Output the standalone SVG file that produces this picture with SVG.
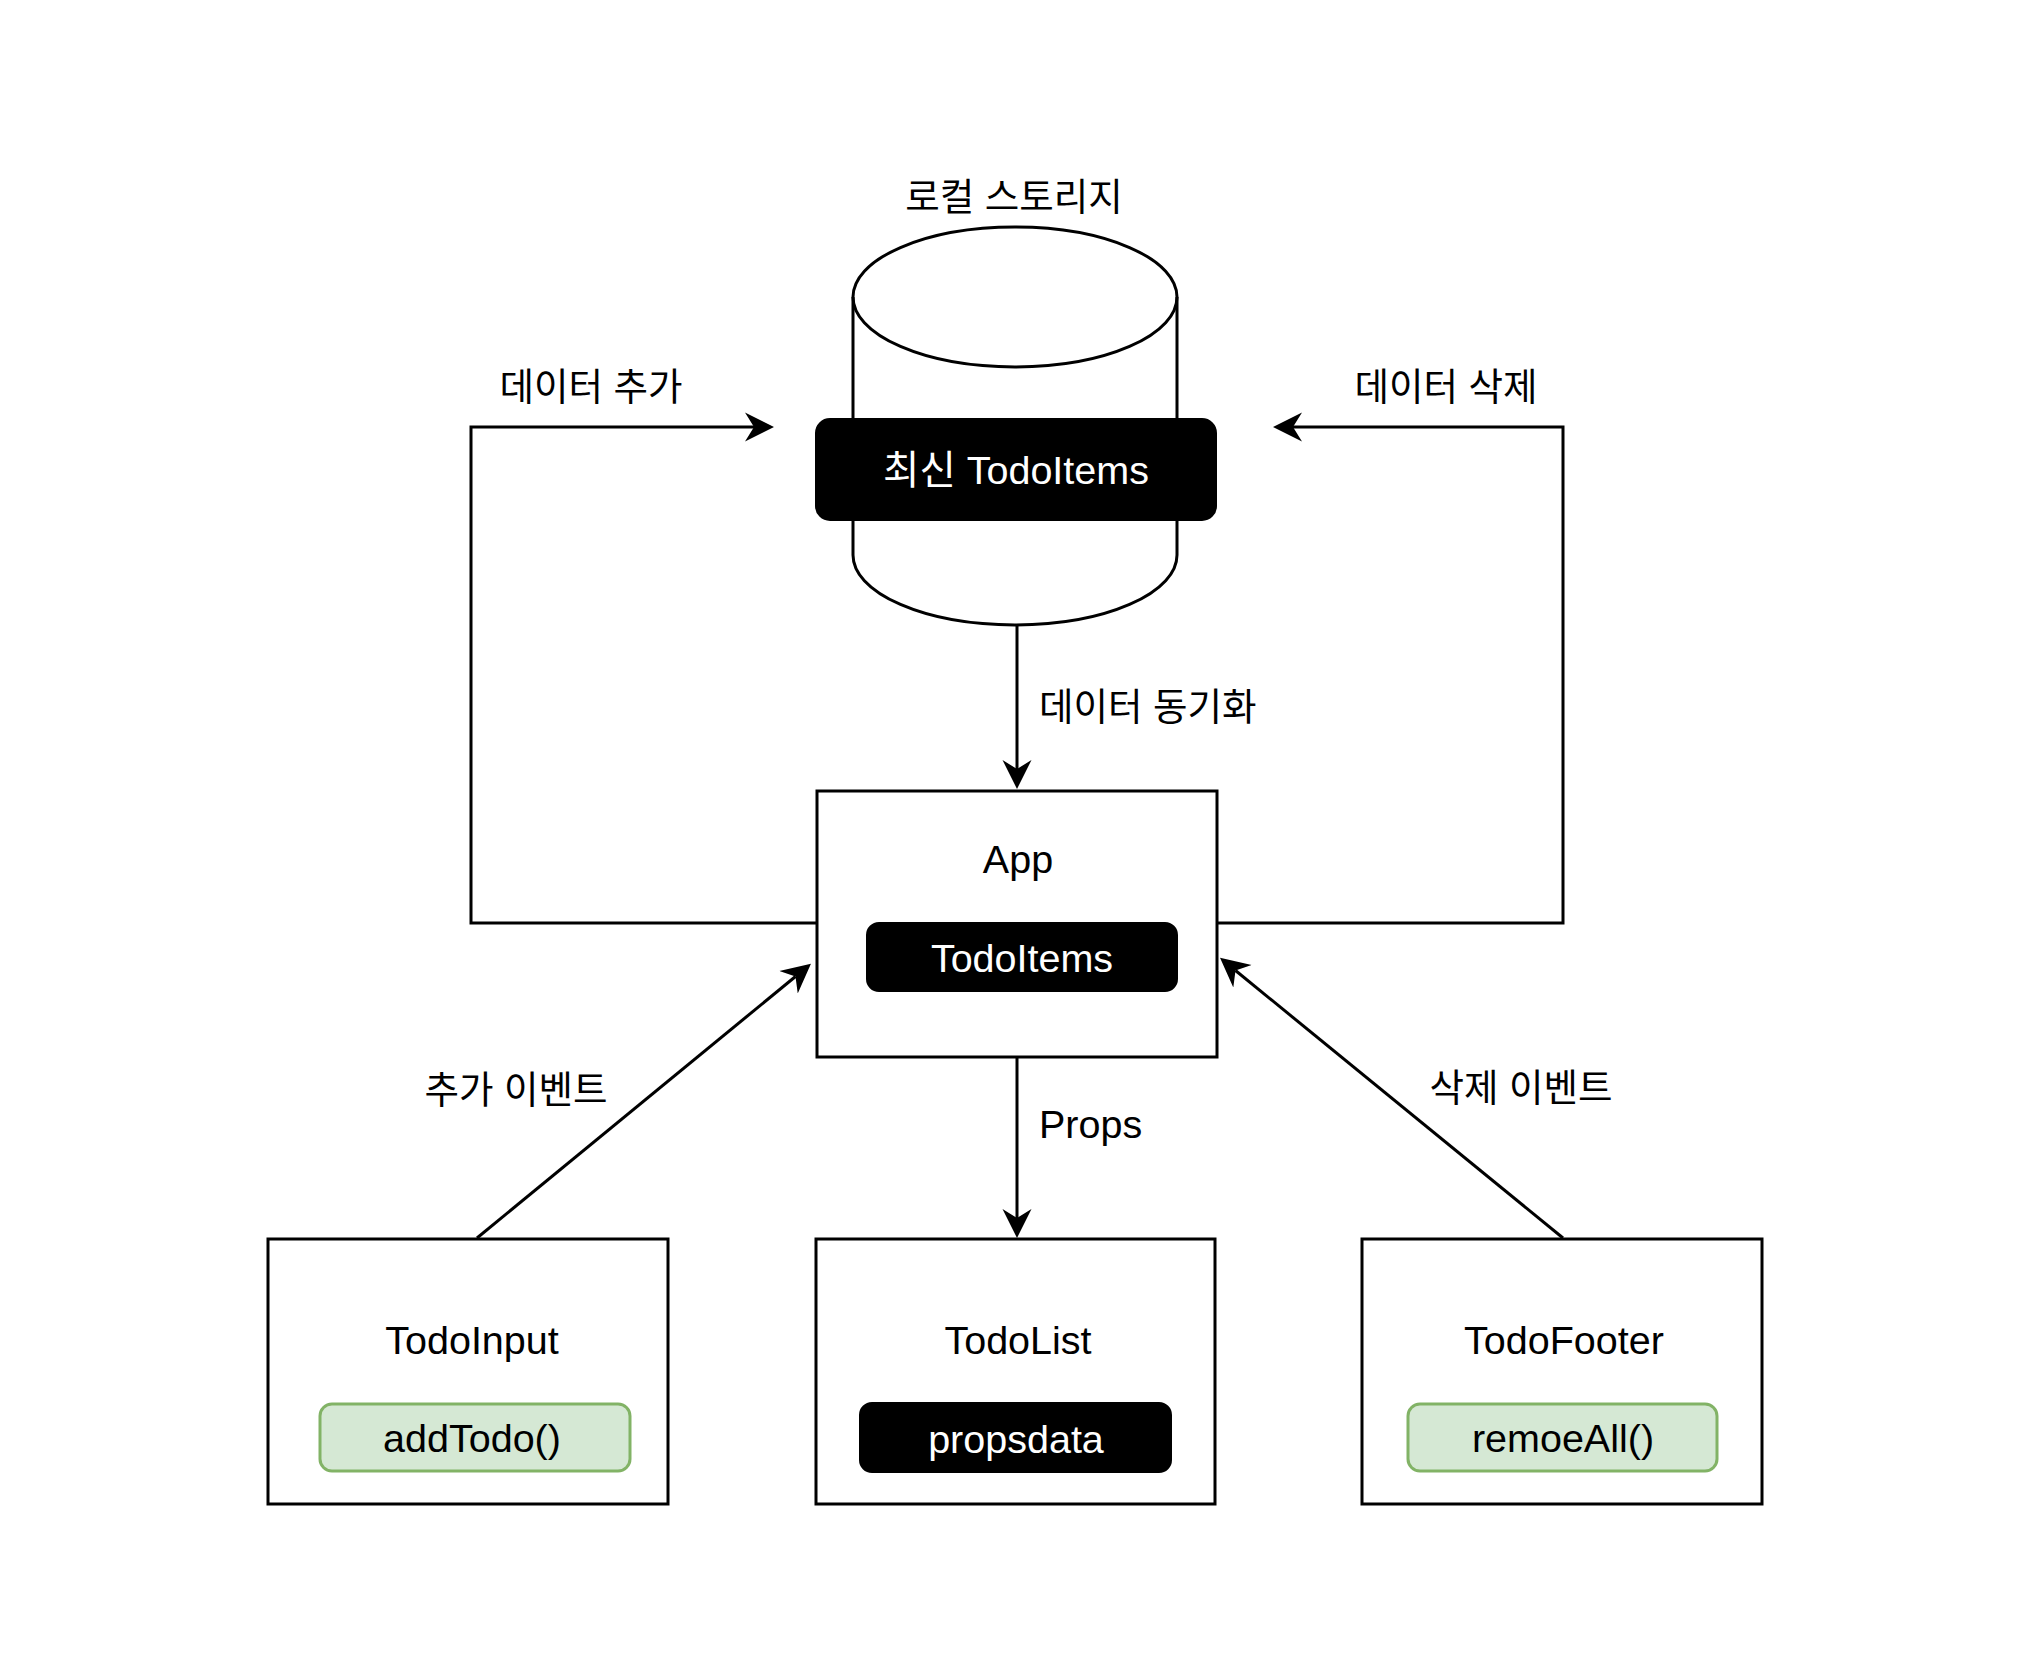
<svg xmlns="http://www.w3.org/2000/svg" width="2040" height="1658" viewBox="0 0 2040 1658">
<style>
  .box { fill: #ffffff; stroke: #000000; stroke-width: 3; }
  .dark { fill: #000000; stroke: #000000; stroke-width: 2; }
  .green { fill: #d5e8d4; stroke: #82b366; stroke-width: 3; }
  .t { font-family: "Liberation Sans", "Noto Sans CJK KR", sans-serif; font-size: 39.5px; fill: #000000; }
  .w { fill: #ffffff; }
  .k { font-family: "Liberation Sans", "Noto Sans CJK KR", sans-serif; font-size: 37.5px; fill: #000000; }
  .c { text-anchor: middle; }
  .edge { fill: none; stroke: #000000; stroke-width: 3; }
</style>
<defs>
  <marker id="arrow" markerUnits="userSpaceOnUse" markerWidth="31" markerHeight="32" viewBox="0 0 31 32" refX="9" refY="16" orient="auto">
    <path d="M0,1.5 L29,16 L0,30.5 L9,16 Z" fill="#000000"/>
  </marker>
</defs>
<rect x="0" y="0" width="2040" height="1658" fill="#ffffff"/>

<g id="connectors">
  <path class="edge" d="M1017,625 V769" marker-end="url(#arrow)"/>
  <path class="edge" d="M1017,1057 V1218" marker-end="url(#arrow)"/>
  <path class="edge" d="M817,923 H471 V427 H754" marker-end="url(#arrow)"/>
  <path class="edge" d="M1217,923 H1563 V427 H1293" marker-end="url(#arrow)"/>
  <path class="edge" d="M477,1238 L795.5,976.5" marker-end="url(#arrow)"/>
  <path class="edge" d="M1563,1238 L1235.5,970.5" marker-end="url(#arrow)"/>
  <text class="k c" x="591" y="400">데이터 추가</text>
  <text class="k c" x="1446" y="400">데이터 삭제</text>
  <text class="k" x="1039" y="720">데이터 동기화</text>
  <text class="k c" x="516" y="1103">추가 이벤트</text>
  <text class="k c" x="1521" y="1101">삭제 이벤트</text>
  <text class="t" x="1039" y="1138">Props</text>
</g>

<g id="storage">
  <path class="box" d="M853,297 A162,70 0 0,1 1177,297 V555 A162,70 0 0,1 853,555 Z"/>
  <path class="edge" d="M853,297 A162,70 0 0,0 1177,297"/>
  <text class="k c" x="1014" y="210">로컬 스토리지</text>
  <rect class="dark" x="816" y="419" width="400" height="101" rx="14"/>
  <text class="t c w" x="1016" y="484">최신 TodoItems</text>
</g>

<g id="app">
  <rect class="box" x="817" y="791" width="400" height="266"/>
  <text class="t c" x="1018" y="873">App</text>
  <rect class="dark" x="867" y="923" width="310" height="68" rx="12"/>
  <text class="t c w" x="1022" y="972">TodoItems</text>
</g>

<g id="todoinput">
  <rect class="box" x="268" y="1239" width="400" height="265"/>
  <text class="t c" x="472" y="1354">TodoInput</text>
  <rect class="green" x="320" y="1404" width="310" height="67" rx="12"/>
  <text class="t c" x="472" y="1452">addTodo()</text>
</g>

<g id="todolist">
  <rect class="box" x="816" y="1239" width="399" height="265"/>
  <text class="t c" x="1018" y="1354">TodoList</text>
  <rect class="dark" x="860" y="1403" width="311" height="69" rx="12"/>
  <text class="t c w" x="1016" y="1453">propsdata</text>
</g>

<g id="todofooter">
  <rect class="box" x="1362" y="1239" width="400" height="265"/>
  <text class="t c" x="1564" y="1354">TodoFooter</text>
  <rect class="green" x="1408" y="1404" width="309" height="67" rx="12"/>
  <text class="t c" x="1563" y="1452">remoeAll()</text>
</g>
</svg>
